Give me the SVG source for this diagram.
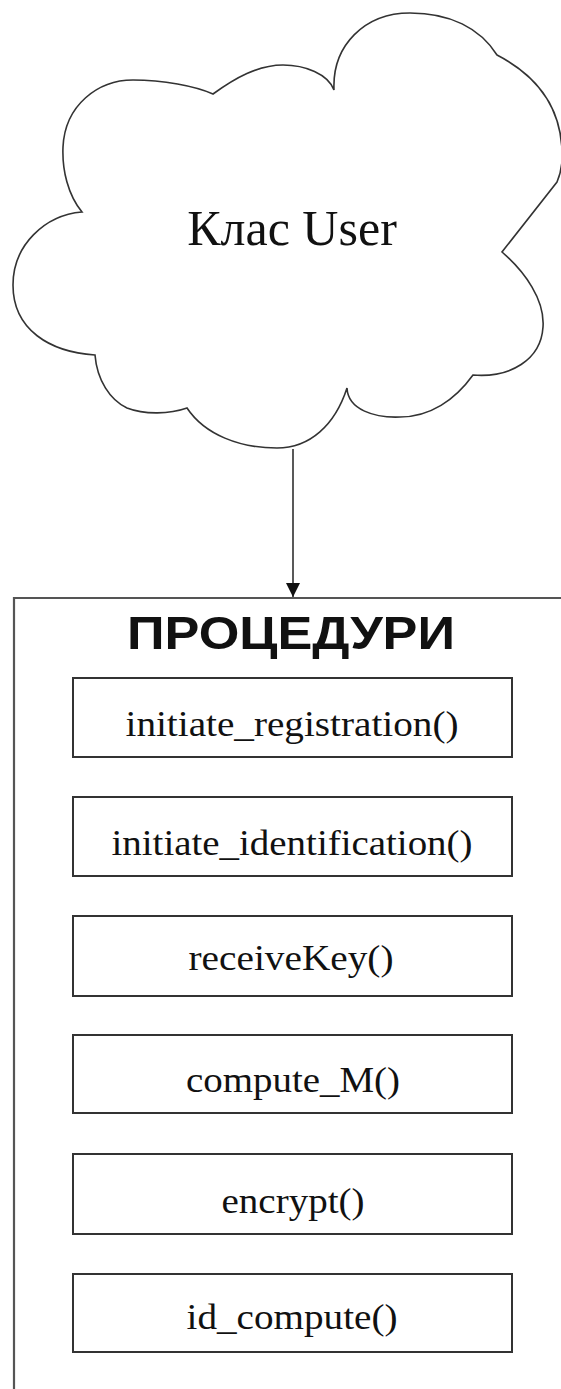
<svg xmlns="http://www.w3.org/2000/svg" width="561" height="1389" viewBox="0 0 561 1389">
  <style>
    .serif { font-family: "Liberation Serif", "Times New Roman", serif; fill: #111; }
    .proc rect { fill: #fff; stroke: #333; stroke-width: 2; }
    .proc text { font-size: 35px; text-anchor: middle; }
    .edge { stroke: #222; stroke-width: 1.5; fill: none; }
  </style>
  <defs>
    <marker id="arrow" markerWidth="14" markerHeight="14" refX="14" refY="7" orient="auto" markerUnits="userSpaceOnUse">
      <path d="M0,0 L14,7 L0,14 Z" fill="#111"/>
    </marker>
  </defs>
  <rect width="561" height="1389" fill="#fff"/>

  <!-- class cloud -->
  <g id="user-class">
    <path d="M213,94 C235,78 258,65 283,65 C305,65 328,74 334,90
             C332,45 365,13 410,13 C450,13 480,28 497,55
             C530,72 560,100 562,150 C563,165 560,175 557,182 L502,252
             C525,272 545,300 543,327 C541,360 510,378 473,375
             C455,400 430,417 400,417 C375,418 348,410 347,388
             C335,425 310,448 277,448 C240,448 205,435 187,408
             C170,414 145,415 127,408 C110,400 97,380 95,355
             C50,352 13,330 13,285 C13,245 45,215 82,212
             C68,195 62,170 63,147 C65,105 98,80 133,80 C163,80 195,86 213,94 Z"
          fill="#fff" stroke="#333" stroke-width="1.6"/>
    <text class="serif" x="292" y="245" font-size="50" text-anchor="middle">Клас User</text>
  </g>

  <!-- procedures container -->
  <g id="procedures">
    <path d="M563,598 H14 V1391" fill="none" stroke="#555" stroke-width="2.2"/>
    <text x="291" y="649" font-family="'Liberation Sans', Arial, sans-serif" font-weight="bold" font-size="46" text-anchor="middle" textLength="328" lengthAdjust="spacingAndGlyphs" fill="#111">ПРОЦЕДУРИ</text>
  </g>

  <g id="proc-1" class="proc">
    <rect x="73" y="678" width="439" height="79"/>
    <text class="serif" x="292" y="736" textLength="333" lengthAdjust="spacingAndGlyphs">initiate_registration()</text>
  </g>
  <g id="proc-2" class="proc">
    <rect x="73" y="797" width="439" height="79"/>
    <text class="serif" x="292" y="855" textLength="361" lengthAdjust="spacingAndGlyphs">initiate_identification()</text>
  </g>
  <g id="proc-3" class="proc">
    <rect x="73" y="916" width="439" height="80"/>
    <text class="serif" x="291" y="970" textLength="205" lengthAdjust="spacingAndGlyphs">receiveKey()</text>
  </g>
  <g id="proc-4" class="proc">
    <rect x="73" y="1035" width="439" height="78"/>
    <text class="serif" x="293" y="1092" textLength="214" lengthAdjust="spacingAndGlyphs">compute_M()</text>
  </g>
  <g id="proc-5" class="proc">
    <rect x="73" y="1154" width="439" height="80"/>
    <text class="serif" x="293" y="1213" textLength="143" lengthAdjust="spacingAndGlyphs">encrypt()</text>
  </g>
  <g id="proc-6" class="proc">
    <rect x="73" y="1274" width="439" height="78"/>
    <text class="serif" x="292" y="1329" textLength="211" lengthAdjust="spacingAndGlyphs">id_compute()</text>
  </g>

  <!-- connectors -->
  <g id="connectors">
    <line class="edge" x1="293" y1="449" x2="293" y2="597" marker-end="url(#arrow)"/>
  </g>
</svg>
